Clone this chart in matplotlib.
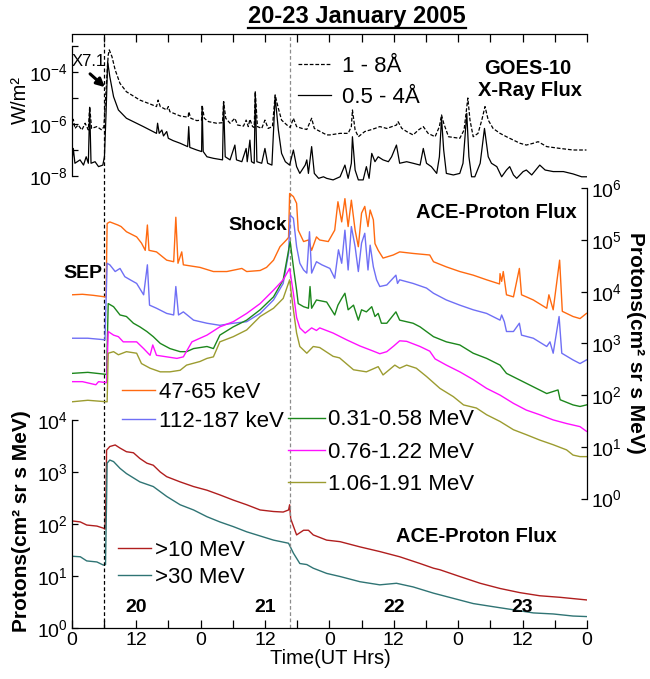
import numpy as np
import matplotlib
matplotlib.use("Agg")
import matplotlib.pyplot as plt
from matplotlib.ticker import FixedLocator, FuncFormatter, NullLocator, NullFormatter
from matplotlib.lines import Line2D

plt.rcParams['font.family'] = ['Liberation Sans', 'DejaVu Sans']
plt.rcParams['mathtext.default'] = 'regular'

W, H = 650, 679

# ---- GOES-10 X-ray flux, log10(W/m2), time in hours from 20 Jan 00 UT
xs_t = [0, 0.3, 0.6, 1.55, 2.2, 2.7, 3.1, 3.35, 3.6, 4.35, 5.0, 5.8, 6.1, 6.4, 6.7, 7.1, 7.8, 8.7,
        10.2, 13.35, 15.8, 16.0, 16.3, 16.8, 17.1, 17.7, 18.0, 18.9, 20.2, 21.6, 21.8, 22.0, 23.3,
        24.2, 24.3, 24.5, 25.2, 26.4, 28.1, 28.3, 28.6, 29.5, 30.4, 30.7, 31.7, 32.5, 32.7, 33.2,
        33.5, 34.0, 34.2, 34.5, 35.4, 36.0, 36.5, 37.3, 37.9, 38.5, 39.1, 39.8, 40.6, 41.3, 41.9,
        42.5, 43.5, 43.8, 44.1, 44.7, 45.2, 46.0, 46.9, 47.5, 48.7, 50.0, 50.9, 51.5, 52.1, 52.3,
        52.8, 53.4, 54.3, 54.9, 55.4, 55.9, 56.5, 57.1, 58.0, 59.0, 59.6, 60.5, 61.1, 62.4, 63.6,
        64.9, 65.5, 66.1, 67.0, 68.0, 68.5, 68.9, 69.3, 69.8, 71.1, 72.3, 72.9, 73.6, 74.0, 74.5,
        75.1, 76.1, 76.9, 77.6, 78.2, 79.2, 80.1, 81.0, 81.6, 82.3, 82.9, 84.1, 84.7, 85.7, 87.2,
        88.2, 89.7, 91.6, 93.4, 95.0, 95.9]
xs_log = [-7.58, -6.94, -7.51, -7.38, -7.58, -7.26, -7.51, -5.36, -7.51, -7.45, -7.64, -7.58, -7.26,
          -5.59, -3.6, -4.18, -4.95, -5.46, -5.78, -6.10, -6.36, -5.97, -6.36, -6.23, -6.46, -6.29,
          -6.55, -6.64, -6.74, -6.87, -6.10, -6.9, -7.0, -7.06, -5.33, -7.06, -7.26, -7.32, -7.38,
          -5.14, -7.26, -7.38, -6.81, -7.38, -7.45, -6.94, -7.45, -6.62, -7.45, -7.51, -4.76, -7.45,
          -7.51, -6.94, -7.51, -7.58, -4.95, -6.23, -7.13, -7.45, -7.58, -7.0, -7.64, -7.9, -7.58,
          -7.38, -7.9, -6.87, -7.9, -8.09, -8.03, -8.09, -8.15, -8.03, -7.58, -8.09, -7.51, -6.49,
          -7.77, -8.15, -8.15, -7.64, -8.09, -7.13, -7.45, -7.26, -7.38, -7.45, -7.26, -6.81, -7.51,
          -7.45, -7.51, -7.58, -6.94, -7.51, -7.64, -7.9, -7.26, -5.78, -7.0, -7.9, -7.96, -7.9,
          -7.51, -5.59, -7.26, -8.03, -8.03, -7.51, -6.17, -7.26, -7.51, -7.64, -8.03, -7.77, -7.64,
          -7.96, -8.09, -7.83, -7.77, -7.96, -7.58, -7.77, -7.83, -7.83, -7.92, -8.03, -8.03]

xl_t = [0, 0.3, 0.6, 1.2, 1.9, 2.5, 3.1, 3.35, 3.7, 4.7, 5.6, 6.0, 6.4, 6.8, 7.0, 7.5, 8.1, 9.0,
        10.2, 12.7, 14.6, 15.8, 16.1, 16.5, 17.7, 18.0, 18.3, 20.2, 21.7, 21.8, 22.2, 23.3, 24.2,
        24.3, 24.7, 25.5, 27.0, 28.1, 28.3, 28.7, 29.5, 30.4, 30.9, 32.0, 32.5, 32.9, 33.2, 33.7,
        34.0, 34.2, 34.6, 35.4, 36.0, 36.6, 37.4, 37.9, 38.5, 39.1, 40.1, 40.7, 41.3, 41.9, 42.9,
        43.8, 44.7, 45.2, 46.3, 47.5, 48.1, 50.0, 51.5, 52.1, 52.3, 52.8, 53.4, 54.6, 55.6, 56.5,
        57.4, 58.7, 60.5, 60.8, 61.5, 62.4, 63.6, 64.6, 65.5, 66.4, 67.7, 68.5, 68.9, 69.3, 70.2,
        72.3, 73.1, 73.8, 74.2, 74.8, 75.7, 76.4, 77.0, 77.6, 78.5, 79.8, 81.0, 82.3, 83.5, 84.7,
        86.0, 86.9, 88.5, 91.0, 93.4, 95.9]
xl_log = [-6.1, -5.82, -6.17, -6.04, -6.23, -5.97, -6.23, -5.33, -6.17, -6.10, -6.23, -6.1, -4.69,
          -3.35, -3.15, -3.41, -3.92, -4.44, -4.76, -5.08, -5.23, -5.33, -5.08, -5.33, -5.46, -5.33,
          -5.53, -5.69, -5.74, -5.53, -5.78, -5.87, -5.85, -5.27, -5.78, -5.91, -5.97, -5.95, -5.14,
          -5.78, -5.97, -5.78, -6.04, -6.08, -5.85, -6.1, -5.82, -6.1, -6.13, -4.76, -6.1, -6.17,
          -5.85, -6.17, -6.1, -4.88, -5.4, -5.85, -6.04, -6.13, -5.78, -6.1, -6.17, -6.21, -5.78,
          -6.17, -6.29, -6.42, -6.42, -6.36, -6.36, -6.1, -5.46, -6.23, -6.49, -6.29, -6.23, -6.17,
          -6.1, -6.17, -6.04, -5.91, -6.17, -6.29, -6.42, -6.23, -6.1, -6.36, -6.49, -6.1, -5.65,
          -5.97, -6.49, -6.55, -6.23, -5.0, -5.85, -6.49, -6.36, -5.85, -5.33, -5.85, -6.17, -6.36,
          -6.49, -6.62, -6.74, -6.81, -6.74, -6.68, -6.87, -6.94, -7.0, -7.0]

# ---- ACE low-energy protons, log10(flux)
p1_t = [0, 2, 4, 6.2, 6.4, 6.6, 7.1, 8.6, 9.2, 10.2, 12.1, 13.0, 13.7, 14.1, 14.4, 15.8, 17.7, 19.0,
        19.4, 19.8, 20.5, 20.8, 23.9, 26.4, 28.9, 31.7, 32.6, 35.1, 36.3, 37.6, 38.8, 40.0, 40.4,
        40.6, 41.3, 41.9, 42.2, 43.2, 44.1, 44.7, 45.6, 46.2, 47.8, 49.0, 49.6, 50.3, 50.9, 51.5,
        52.1, 52.8, 53.4, 54.0, 54.6, 55.2, 55.6, 56.2, 56.5, 57.1, 58.0, 59.9, 61.1, 63.6, 66.7,
        67.4, 69.8, 72.3, 74.8, 77.3, 79.7, 79.8, 80.1, 80.4, 81.0, 82.3, 83.4, 83.8, 84.7, 86.0,
        88.5, 88.9, 89.7, 90.9, 91.4, 93.4, 94.7, 95.9]
p1_log = [3.94, 3.95, 3.93, 3.90, 3.9, 5.32, 5.35, 5.29, 5.26, 5.16, 5.06, 4.94, 4.8, 5.29, 4.8, 4.77,
          4.61, 4.58, 5.44, 4.55, 4.77, 4.52, 4.47, 4.39, 4.39, 4.45, 4.39, 4.41, 4.47, 4.61, 4.87,
          5.0, 5.05, 5.9, 5.84, 5.71, 5.19, 4.97, 5.0, 4.8, 5.06, 5.0, 4.97, 5.19, 5.74, 5.35, 5.8,
          5.26, 5.77, 5.19, 4.87, 5.52, 5.65, 5.26, 5.58, 5.39, 4.93, 4.8, 4.65, 4.71, 4.77, 4.74,
          4.71, 4.58, 4.48, 4.39, 4.32, 4.23, 4.15, 4.35, 4.2, 4.39, 3.94, 3.9, 4.45, 3.94, 3.9,
          3.84, 3.68, 3.94, 3.65, 4.61, 3.62, 3.52, 3.48, 3.58]

p2_t = [0, 3, 6.2, 6.6, 7.1, 8.1, 9.0, 9.9, 10.9, 12.1, 13.4, 14.1, 14.5, 15.8, 17.7, 19.0, 19.4, 19.9,
        20.8, 22.7, 25.2, 27.6, 30.1, 32.6, 35.1, 37.6, 39.4, 40.4, 40.7, 41.3, 41.9, 42.5, 43.2,
        43.8, 44.3, 44.7, 45.6, 46.6, 48.1, 49.0, 49.7, 50.3, 50.9, 51.5, 52.1, 52.8, 53.4, 54.0,
        54.6, 55.2, 55.6, 56.2, 56.8, 57.4, 58.7, 60.4, 60.7, 61.1, 63.6, 66.1, 67.4, 69.8, 72.3,
        74.8, 77.3, 79.8, 80.1, 80.6, 81.0, 82.3, 83.4, 83.8, 86.0, 88.5, 89.1, 89.7, 90.8, 91.3,
        93.4, 94.7, 95.9]
p2_log = [3.1, 3.1, 3.07, 4.55, 4.52, 4.39, 4.45, 4.29, 4.23, 4.16, 3.94, 4.52, 3.74, 3.68, 3.58, 3.55,
          4.1, 3.55, 3.61, 3.45, 3.39, 3.35, 3.39, 3.42, 3.58, 3.84, 4.16, 4.74, 5.48, 5.42, 4.87,
          4.55, 4.42, 4.36, 5.16, 4.36, 4.58, 4.52, 4.45, 4.26, 4.81, 4.55, 5.19, 4.42, 5.26, 4.87,
          4.39, 4.94, 5.13, 4.42, 4.9, 4.48, 4.23, 4.1, 4.13, 4.32, 4.16, 4.23, 4.16, 4.07, 3.97,
          3.84, 3.74, 3.65, 3.58, 3.45, 3.55, 3.42, 3.23, 3.23, 3.39, 3.16, 3.1, 2.94, 3.03, 2.81,
          3.52, 2.81, 2.68, 2.61, 2.68]

p3_t = [0, 3, 6.5, 6.8, 7.8, 9.0, 10.2, 11.5, 12.7, 14.0, 15.2, 16.5, 18.3, 20.2, 21.4, 22.7, 25.2,
        26.4, 27.6, 30.1, 32.6, 35.1, 37.6, 39.4, 40.7, 41.3, 41.9, 42.2, 43.2, 44.1, 44.4, 44.7,
        45.6, 47.5, 49.0, 49.6, 50.3, 50.9, 51.5, 52.5, 53.4, 54.0, 54.9, 55.9, 56.5, 57.1, 57.7,
        58.7, 60.4, 61.1, 63.6, 64.9, 67.4, 69.8, 72.3, 74.8, 77.3, 79.8, 81.0, 83.5, 86.0, 88.5,
        90.6, 91.0, 93.4, 94.7, 95.9]
p3_log = [2.42, 2.44, 2.40, 3.77, 3.71, 3.55, 3.52, 3.39, 3.32, 3.23, 3.13, 3.0, 2.9, 2.84, 2.84, 2.9,
          2.94, 2.9, 3.16, 3.32, 3.45, 3.65, 3.9, 4.23, 4.97, 4.48, 4.03, 3.77, 3.71, 3.68, 4.1,
          3.68, 3.84, 3.80, 3.55, 3.74, 3.87, 3.97, 3.65, 3.74, 3.45, 3.65, 3.61, 3.71, 3.52, 3.58,
          3.39, 3.39, 3.61, 3.45, 3.39, 3.32, 3.13, 3.03, 2.97, 2.81, 2.71, 2.58, 2.42, 2.29, 2.16,
          2.03, 2.1, 1.91, 1.81, 1.78, 1.81]

p4_t = [0, 2, 4.5, 5, 6.5, 6.8, 7.8, 8.7, 9.6, 10.9, 12.1, 13.4, 14.6, 15.1, 15.8, 17.7, 19.6, 20.8,
        22.4, 23.9, 25.2, 27.6, 30.1, 32.6, 35.1, 37.6, 39.4, 40.6, 41.3, 41.9, 42.5, 43.5, 44.7,
        45.6, 46.2, 48.7, 51.2, 53.7, 56.2, 57.4, 58.7, 60.0, 61.1, 62.4, 64.9, 66.7, 67.7, 69.8,
        72.3, 74.8, 77.3, 79.8, 82.3, 84.7, 87.2, 89.7, 92.2, 94.7, 95.9]
p4_log = [2.26, 2.26, 2.2, 2.26, 2.24, 3.23, 3.16, 3.13, 3.03, 3.03, 3.03, 2.9, 2.77, 2.97, 2.77, 2.74,
          2.71, 2.74, 3.03, 3.1, 3.16, 3.32, 3.42, 3.58, 3.77, 4.03, 4.23, 4.45, 3.97, 3.5, 3.3, 3.2,
          3.3, 3.25, 3.3, 3.2, 3.07, 2.95, 2.85, 2.8, 2.84, 2.95, 3.05, 3.04, 2.94, 2.85, 2.7, 2.58,
          2.45, 2.3, 2.13, 2.0, 1.84, 1.71, 1.62, 1.52, 1.45, 1.39, 1.3]

p5_t = [0, 3, 6.6, 6.8, 7.8, 8.7, 10.2, 12.1, 13.0, 14.6, 16.5, 18.3, 20.2, 21.4, 23.9, 25.2, 26.4,
        27.6, 30.1, 32.6, 35.1, 37.6, 39.4, 40.6, 41.3, 41.9, 42.5, 43.8, 45.0, 46.2, 48.7, 49.9,
        52.5, 54.9, 57.1, 58.0, 60.2, 61.1, 62.4, 64.2, 66.1, 68.6, 71.1, 73.0, 75.4, 77.3, 79.8,
        82.3, 84.8, 87.2, 89.7, 92.2, 93.4, 94.7, 95.9]
p5_log = [1.87, 1.9, 1.87, 2.81, 2.84, 2.78, 2.84, 2.81, 2.61, 2.52, 2.45, 2.45, 2.48, 2.58, 2.65, 2.71,
          2.74, 3.03, 3.13, 3.26, 3.52, 3.68, 3.87, 4.23, 3.65, 3.2, 2.94, 2.81, 2.94, 2.92, 2.75,
          2.72, 2.49, 2.45, 2.55, 2.39, 2.58, 2.52, 2.58, 2.52, 2.36, 2.13, 1.97, 1.81, 1.75, 1.62,
          1.49, 1.33, 1.23, 1.13, 1.04, 0.94, 0.84, 0.81, 0.81]

# ---- ACE high-energy protons, log10(flux)
e10_t = [0, 1.6, 2.8, 4.7, 5.9, 6.2, 6.4, 6.5, 7.1, 8.1, 9.0, 10.2, 11.5, 12.7, 14.0, 15.2, 16.5, 17.7,
         20.2, 22.7, 25.2, 27.6, 30.1, 32.6, 35.1, 37.6, 39.4, 40.4, 40.6, 40.8, 41.9, 43.2, 44.1,
         45.0, 47.5, 50.0, 53.7, 57.4, 61.1, 64.9, 67.4, 68.6, 72.3, 76.1, 79.8, 83.5, 87.2, 91.0,
         95.9]
e10_log = [2.06, 2.04, 1.98, 1.96, 1.92, 1.9, 2.6, 3.42, 3.49, 3.52, 3.46, 3.39, 3.37, 3.26, 3.17, 3.13,
           3.0, 2.91, 2.81, 2.72, 2.65, 2.56, 2.46, 2.37, 2.27, 2.24, 2.23, 2.27, 2.37, 2.1, 1.79, 1.88,
           1.88, 1.79, 1.69, 1.66, 1.56, 1.47, 1.37, 1.24, 1.15, 1.12, 0.99, 0.86, 0.76, 0.68, 0.62,
           0.59, 0.54]

e30_t = [0, 1.6, 2.8, 4.7, 5.9, 6.3, 6.5, 6.6, 7.1, 7.8, 9.0, 10.2, 12.7, 15.2, 17.7, 20.2, 22.7, 25.2,
         27.6, 30.1, 32.6, 35.1, 37.6, 40.4, 41.3, 42.5, 43.8, 45.0, 47.5, 50.0, 53.7, 57.4, 60.5,
         63.6, 67.4, 71.1, 74.8, 78.5, 82.3, 86.0, 89.7, 93.4, 95.9]
e30_log = [1.38, 1.37, 1.29, 1.27, 1.21, 1.22, 2.5, 3.17, 3.23, 3.2, 3.07, 2.97, 2.81, 2.72, 2.53, 2.37,
           2.27, 2.14, 2.04, 1.95, 1.85, 1.77, 1.69, 1.63, 1.44, 1.24, 1.22, 1.15, 1.05, 0.99, 0.89,
           0.83, 0.86, 0.79, 0.67, 0.57, 0.47, 0.41, 0.35, 0.29, 0.27, 0.23, 0.22]

flare_hr = 6.1
shock_hr = 40.6
day_names = ['20', '21', '22', '23']
day_noon = [12, 36, 60, 84]


def fx(px):
    return px / W


def fy(py):
    return 1 - py / H


def dec_label(v, pos):
    return r'$10^{%d}$' % int(round(np.log10(v)))


fig = plt.figure(figsize=(W / 100, H / 100), dpi=100)
pos = [fx(71.7), fy(628), (587 - 71.7) / W, (628 - 34) / H]

ax_bot = fig.add_axes(pos)
ax_mid = ax_bot.twinx()
ax_top = ax_bot.twinx()

# ---- bottom panel (>10, >30 MeV)
ax_bot.plot(e10_t, np.power(10.0, e10_log), color='#b01e1e', lw=1.0, label='>10 MeV')
ax_bot.plot(e30_t, np.power(10.0, e30_log), color='#2f7474', lw=1.0, label='>30 MeV')
ax_bot.set_yscale('log')
ax_bot.set_ylim(1, 10 ** (594 / 52))
ax_bot.set_xlim(0, 96)
ax_bot.spines['right'].set_visible(False)
ax_bot.spines['left'].set_bounds(1, 1e4)
ax_bot.yaxis.set_major_locator(FixedLocator([1e0, 1e1, 1e2, 1e3, 1e4]))
ax_bot.yaxis.set_minor_locator(NullLocator())
ax_bot.yaxis.set_major_formatter(FuncFormatter(dec_label))
ax_bot.tick_params(axis='y', direction='in', length=4, width=0.9, labelsize=14, pad=3)
ax_bot.xaxis.set_major_locator(FixedLocator(np.arange(0, 97, 6)))
ax_bot.xaxis.set_major_formatter(FuncFormatter(
    lambda v, p: '%d' % (int(round(v)) % 24) if int(round(v)) % 12 == 0 else ''))
ax_bot.tick_params(axis='x', direction='in', top=True, bottom=True, length=5.5, width=0.9,
                   labelsize=14, pad=3)
for s in ax_bot.spines.values():
    s.set_linewidth(0.9)

ax_bot.axvline(flare_hr, color='black', ls='--', lw=0.9, dashes=(3, 2))
ax_bot.axvline(shock_hr, color='#8c8c8c', ls='--', lw=0.9, dashes=(3, 2))

day_y = (fy(607) - pos[1]) / pos[3]
for name, hr in zip(day_names, day_noon):
    ax_bot.text(hr, day_y, name, transform=ax_bot.get_xaxis_transform(), ha='center',
                va='center', fontsize=14, fontweight='bold')

# ---- middle panel (ACE low energy)
ax_mid.plot(p1_t, np.power(10.0, p1_log), color='#ff6a10', lw=1.0, label='47-65 keV')
ax_mid.plot(p2_t, np.power(10.0, p2_log), color='#6f6ff5', lw=1.0, label='112-187 keV')
ax_mid.plot(p3_t, np.power(10.0, p3_log), color='#1c871c', lw=1.0, label='0.31-0.58 MeV')
ax_mid.plot(p4_t, np.power(10.0, p4_log), color='#ff10ff', lw=1.0, label='0.76-1.22 MeV')
ax_mid.plot(p5_t, np.power(10.0, p5_log), color='#9c9c30', lw=1.0, label='1.06-1.91 MeV')
ax_mid.set_yscale('log')
ax_mid.set_ylim(10 ** (-129.5 / 51.7), 10 ** (464.5 / 51.7))
for k in ['left', 'top', 'bottom']:
    ax_mid.spines[k].set_visible(False)
ax_mid.spines['right'].set_bounds(1, 1e6)
ax_mid.spines['right'].set_linewidth(0.9)
ax_mid.yaxis.set_major_locator(FixedLocator([10.0 ** k for k in range(7)]))
ax_mid.yaxis.set_minor_locator(NullLocator())
ax_mid.yaxis.set_major_formatter(FuncFormatter(dec_label))
ax_mid.tick_params(axis='y', direction='in', length=4, width=0.9, labelsize=14, pad=3)

# ---- top panel (GOES)
ax_top.plot(xl_t, np.power(10.0, xl_log), color='black', lw=0.9, ls='--', dashes=(3, 1.5),
            label='1 - 8Å')
ax_top.plot(xs_t, np.power(10.0, xs_log), color='black', lw=0.9, label='0.5 - 4Å')
ax_top.set_yscale('log')
ax_top.set_ylim(10 ** (-3 - 582 / 26), 10 ** (-3 + 12 / 26))
for k in ['right', 'top', 'bottom']:
    ax_top.spines[k].set_visible(False)
ax_top.spines['left'].set_visible(True)
ax_top.spines['left'].set_bounds(1e-8, 1e-3)
ax_top.spines['left'].set_linewidth(0.9)
ax_top.yaxis.set_ticks_position('left')
ax_top.yaxis.set_major_locator(FixedLocator([1e-8, 1e-6, 1e-4]))
ax_top.yaxis.set_minor_locator(FixedLocator([1e-7, 1e-5, 1e-3]))
ax_top.yaxis.set_major_formatter(FuncFormatter(dec_label))
ax_top.yaxis.set_minor_formatter(NullFormatter())
ax_top.tick_params(axis='y', which='both', direction='in', length=4, width=0.9, labelsize=14,
                   pad=3, left=True, right=False, labelleft=True, labelright=False)

# ---- legends
leg_kw = dict(frameon=False, fontsize=16, borderpad=0, borderaxespad=0,
              handlelength=1.5, handletextpad=0.15, loc='center left',
              bbox_transform=fig.transFigure)
h_top = ax_top.get_lines()
fig.legend(handles=h_top, bbox_to_anchor=(fx(298), fy(82)),
           **dict(leg_kw, handletextpad=0.5, labelspacing=0.47))
h_mid = ax_mid.get_lines()
fig.legend(handles=h_mid[:2], bbox_to_anchor=(fx(122), fy(407)), labelspacing=0.35, **leg_kw)
fig.legend(handles=h_mid[2:], bbox_to_anchor=(fx(288), fy(452)), labelspacing=0.5,
           **dict(leg_kw, handlelength=1.65))
h_bot = ax_bot.get_lines()[:2]
fig.legend(handles=h_bot, bbox_to_anchor=(fx(118), fy(564)), labelspacing=0.28, **leg_kw)

# ---- texts
bold = dict(fontweight='bold', ha='center', va='center')
fig.text(fx(528), fy(68), 'GOES-10', fontsize=14.5, **bold)
fig.text(fx(530), fy(90), 'X-Ray Flux', fontsize=14.5, **bold)
fig.text(fx(496), fy(213), 'ACE-Proton Flux', fontsize=14.5, **bold)
fig.text(fx(476), fy(537), 'ACE-Proton Flux', fontsize=14.5, **bold)
fig.text(fx(258), fy(226), 'Shock', fontsize=14, **bold)
fig.text(fx(83), fy(273), 'SEP', fontsize=14, **bold)
fig.text(fx(636), fy(343), 'Protons(cm² sr s MeV)', fontsize=15, rotation=270, **bold)
fig.text(fx(22), fy(521), 'Protons(cm² sr s MeV)', fontsize=15, rotation=90, **bold)
fig.text(fx(20), fy(100), 'W/m²', fontsize=14.5, rotation=90, ha='center', va='center')
fig.text(fx(330), fy(658), 'Time(UT Hrs)', fontsize=14.5, ha='center', va='center')
fig.text(fx(89), fy(61), 'X7.1', fontsize=12, ha='center', va='center')
fig.add_artist(matplotlib.patches.FancyArrowPatch(
    (fx(88), fy(72)), (fx(107), fy(89)), transform=fig.transFigure,
    arrowstyle='-|>', mutation_scale=12, lw=2.2, color='black'))

title = fig.text(fx(357), fy(17), '20-23 January 2005', fontsize=17, fontweight='bold',
                 ha='center', va='center')
fig.canvas.draw()
bb = title.get_window_extent(fig.canvas.get_renderer())
fig.add_artist(Line2D([bb.x0 / W, bb.x1 / W], [(bb.y0 + 1) / H, (bb.y0 + 1) / H],
                      transform=fig.transFigure, color='black', lw=1.6))

fig.savefig('out.png', dpi=100)
